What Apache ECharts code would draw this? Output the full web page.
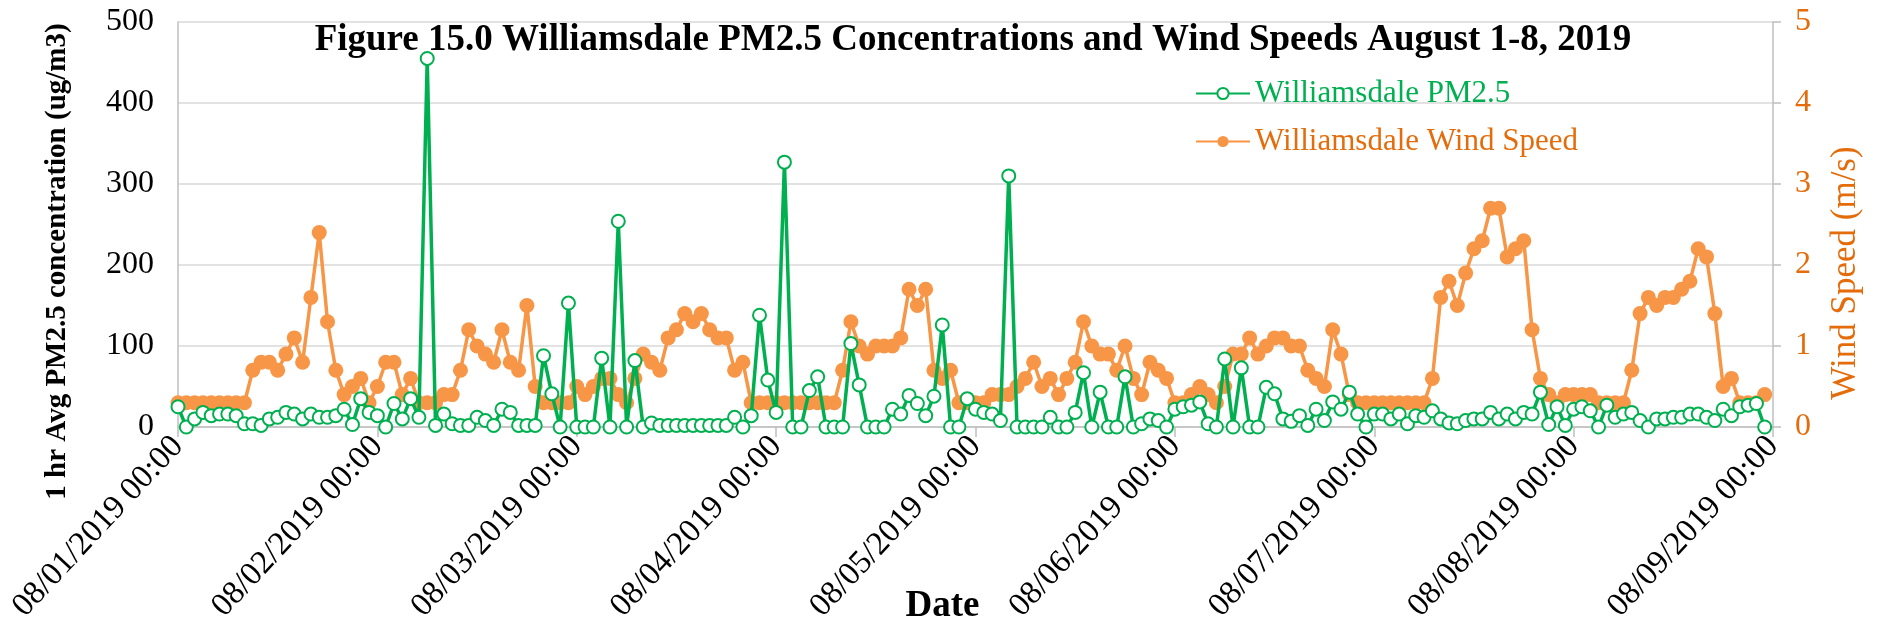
<!DOCTYPE html>
<html>
<head>
<meta charset="utf-8">
<script src="https://cdn.jsdelivr.net/npm/echarts@6/dist/echarts.min.js"></script>
<style>
  html, body { margin: 0; padding: 0; background: #fff; }
  #chart { width: 1883px; height: 631px; }
</style>
</head>
<body>
<div id="chart"></div>
<script>
// tick labels, one per day
var tickLabels = ['08/01/2019 00:00', '08/02/2019 00:00', '08/03/2019 00:00', '08/04/2019 00:00',
    '08/05/2019 00:00', '08/06/2019 00:00', '08/07/2019 00:00', '08/08/2019 00:00', '08/09/2019 00:00']

// 1 hr avg PM2.5 (ug/m3), hourly from 08/01 00:00
var pm25 = [
    25, 0, 10, 18, 14, 16, 16, 14, 4, 4, 2, 10, 12, 18, 16, 10, 16, 12, 12, 14, 22, 3, 35, 18,
    14, 0, 29, 10, 35, 12, 455, 2, 16, 4, 2, 2, 12, 8, 2, 22, 18, 2, 2, 2, 88, 41, 0, 153,
    0, 0, 0, 85, 0, 254, 0, 82, 0, 5, 2, 2, 2, 2, 2, 2, 2, 2, 2, 12, 0, 14, 138, 58,
    18, 327, 0, 0, 45, 62, 0, 0, 0, 103, 52, 0, 0, 0, 22, 16, 39, 29, 14, 38, 126, 0, 0, 35,
    22, 18, 16, 8, 310, 0, 0, 0, 0, 12, 0, 0, 18, 67, 0, 43, 0, 0, 62, 0, 4, 10, 8, 0,
    22, 25, 27, 31, 4, 0, 84, 0, 73, 0, 0, 49, 41, 10, 7, 14, 2, 22, 8, 31, 22, 43, 16, 0,
    16, 16, 10, 16, 4, 14, 12, 20, 10, 5, 4, 8, 10, 10, 18, 10, 16, 10, 18, 16, 43, 3, 25, 2,
    22, 25, 20, 0, 27, 12, 16, 18, 8, 0, 10, 10, 12, 12, 16, 16, 12, 8, 22, 14, 25, 27, 29, 0
]

// wind speed (m/s), hourly from 08/01 00:00
var windSpeed = [
    0.3, 0.3, 0.3, 0.3, 0.3, 0.3, 0.3, 0.3, 0.3, 0.7, 0.8, 0.8, 0.7, 0.9, 1.1, 0.8, 1.6, 2.4, 1.3, 0.7, 0.4, 0.5, 0.6, 0.3,
    0.5, 0.8, 0.8, 0.4, 0.6, 0.3, 0.3, 0.3, 0.4, 0.4, 0.7, 1.2, 1.0, 0.9, 0.8, 1.2, 0.8, 0.7, 1.5, 0.5, 0.3, 0.3, 0.3, 0.3,
    0.5, 0.4, 0.5, 0.6, 0.6, 0.4, 0.3, 0.6, 0.9, 0.8, 0.7, 1.1, 1.2, 1.4, 1.3, 1.4, 1.2, 1.1, 1.1, 0.7, 0.8, 0.3, 0.3, 0.3,
    0.3, 0.3, 0.3, 0.3, 0.3, 0.3, 0.3, 0.3, 0.7, 1.3, 1.0, 0.9, 1.0, 1.0, 1.0, 1.1, 1.7, 1.5, 1.7, 0.7, 0.6, 0.7, 0.3, 0.3,
    0.3, 0.3, 0.4, 0.4, 0.4, 0.5, 0.6, 0.8, 0.5, 0.6, 0.4, 0.6, 0.8, 1.3, 1.0, 0.9, 0.9, 0.7, 1.0, 0.6, 0.4, 0.8, 0.7, 0.6,
    0.3, 0.3, 0.4, 0.5, 0.4, 0.3, 0.5, 0.9, 0.9, 1.1, 0.9, 1.0, 1.1, 1.1, 1.0, 1.0, 0.7, 0.6, 0.5, 1.2, 0.9, 0.4, 0.3, 0.3,
    0.3, 0.3, 0.3, 0.3, 0.3, 0.3, 0.3, 0.6, 1.6, 1.8, 1.5, 1.9, 2.2, 2.3, 2.7, 2.7, 2.1, 2.2, 2.3, 1.2, 0.6, 0.4, 0.3, 0.4,
    0.4, 0.4, 0.4, 0.3, 0.3, 0.3, 0.3, 0.7, 1.4, 1.6, 1.5, 1.6, 1.6, 1.7, 1.8, 2.2, 2.1, 1.4, 0.5, 0.6, 0.3, 0.3, 0.3, 0.4
]

// hourly categories, 08/01 00:00 .. 08/09 00:00
var categories = []
for (var i = 0; i <= 192; i++) {
    var day = Math.floor(i / 24)
    var hh = ('0' + (i % 24)).slice(-2)
    categories.push(tickLabels[day].replace('00:00', hh + ':00'))
}

var serif = 'Liberation Serif, Times New Roman, serif'
var green = '#00B050'
var orange = '#F79646'
var orangeText = '#E46C0A'
var gridGray = '#D9D9D9'

var myChart = echarts.init(document.getElementById('chart'))

var option = {
    animation: false,
    backgroundColor: '#fff',
    title: {
        text: 'Figure 15.0 Williamsdale PM2.5 Concentrations and Wind Speeds August 1-8, 2019',
        left: 968,
        textAlign: 'center',
        top: 17,
        textStyle: {
            fontFamily: serif,
            fontWeight: 'bold',
            fontSize: 37,
            color: '#000'
        }
    },
    legend: {
        orient: 'vertical',
        left: 1190,
        top: 73,
        itemWidth: 54,
        itemHeight: 14,
        itemGap: 17,
        textStyle: {
            fontFamily: serif,
            fontSize: 31
        },
        data: [
            { name: 'Williamsdale PM2.5', textStyle: { color: green } },
            { name: 'Williamsdale Wind Speed', textStyle: { color: orangeText } }
        ]
    },
    grid: {
        left: 178,
        right: 110,
        top: 22,
        bottom: 204,
        outerBoundsMode: 'none'
    },
    xAxis: {
        type: 'category',
        boundaryGap: false,
        data: categories,
        name: 'Date',
        nameLocation: 'middle',
        nameGap: 161,
        nameMoveOverlap: false,
        nameTextStyle: {
            fontFamily: serif,
            fontWeight: 'bold',
            fontSize: 37,
            color: '#000',
            padding: [0, 66, 0, 0]
        },
        axisLine: { lineStyle: { color: '#BFBFBF', width: 1.5 } },
        axisTick: {
            interval: 23,
            length: 10,
            lineStyle: { color: '#BFBFBF', width: 1.5 }
        },
        axisLabel: {
            interval: 23,
            rotate: 47,
            margin: 14,
            fontFamily: serif,
            fontSize: 33,
            color: '#000'
        },
        splitLine: { show: false }
    },
    yAxis: [
        {
            type: 'value',
            min: 0,
            max: 500,
            interval: 100,
            name: '1 hr Avg PM2.5 concentration (ug/m3)',
            nameLocation: 'middle',
            nameRotate: 90,
            nameGap: 106,
            nameMoveOverlap: false,
            nameTextStyle: {
                fontFamily: serif,
                fontWeight: 'bold',
                fontSize: 29,
                color: '#000',
                padding: [0, 74, 0, 0]
            },
            axisLine: { show: true, lineStyle: { color: '#BFBFBF', width: 1.5 } },
            axisTick: { show: false },
            axisLabel: {
                margin: 24,
                fontFamily: serif,
                fontSize: 32,
                color: '#000'
            },
            splitLine: { lineStyle: { color: gridGray, width: 1.5 } }
        },
        {
            type: 'value',
            min: 0,
            max: 5,
            interval: 1,
            position: 'right',
            name: 'Wind Speed (m/s)',
            nameLocation: 'middle',
            nameRotate: 90,
            nameGap: 55,
            nameMoveOverlap: false,
            nameTextStyle: {
                fontFamily: serif,
                fontSize: 35,
                color: orangeText,
                padding: [0, 97, 0, 0]
            },
            axisLine: { show: true, lineStyle: { color: '#BFBFBF', width: 1.5 } },
            axisTick: { show: true, length: 8, lineStyle: { color: '#BFBFBF', width: 1.5 } },
            axisLabel: {
                margin: 22,
                fontFamily: serif,
                fontSize: 32,
                color: orangeText
            },
            splitLine: { show: false }
        }
    ],
    series: [
        {
            name: 'Williamsdale Wind Speed',
            type: 'line',
            yAxisIndex: 1,
            data: windSpeed,
            symbol: 'circle',
            symbolSize: 15,
            showAllSymbol: true,
            z: 2,
            lineStyle: { color: orange, width: 3.5 },
            itemStyle: { color: orange }
        },
        {
            name: 'Williamsdale PM2.5',
            type: 'line',
            yAxisIndex: 0,
            data: pm25,
            symbol: 'emptyCircle',
            symbolSize: 13,
            showAllSymbol: true,
            z: 3,
            lineStyle: { color: green, width: 3.5 },
            itemStyle: { color: green, borderWidth: 2 }
        }
    ]
}

myChart.setOption(option)
</script>
</body>
</html>
